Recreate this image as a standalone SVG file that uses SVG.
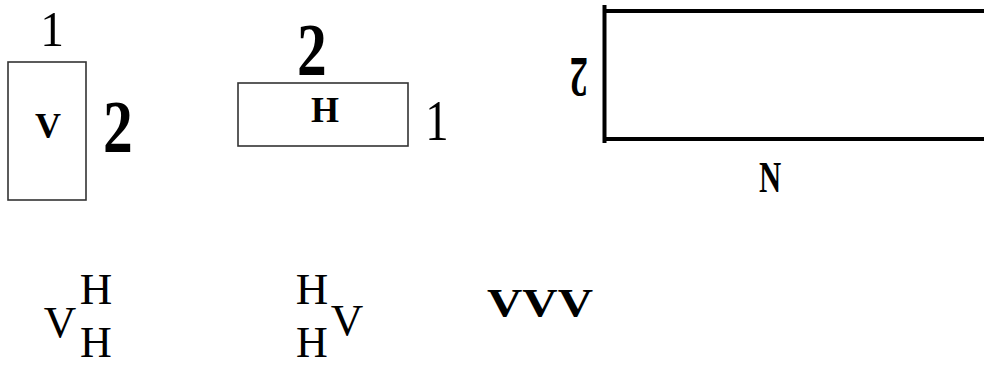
<svg xmlns="http://www.w3.org/2000/svg" width="984" height="367" viewBox="0 0 984 367">
<style>
.t{font-family:"Liberation Serif","Times New Roman",serif;fill:#000;text-anchor:middle}
.b{font-weight:bold}
.box{fill:#fff;stroke:#333;stroke-width:1.6}
</style>
<rect width="984" height="367" fill="#fff"/>
<g id="node-v">
<rect class="box" x="8" y="62" width="78" height="138"/>
<text class="t b" x="48" y="138" font-size="36">V</text>
<text class="t" transform="translate(52 46) scale(0.95 1)" font-size="50">1</text>
<text class="t b" transform="translate(118 152) scale(0.85 1.05)" font-size="70">2</text>
</g>
<g id="node-h">
<rect class="box" x="238" y="83" width="170" height="63"/>
<text class="t b" x="325" y="122" font-size="36">H</text>
<text class="t b" transform="translate(312 75) scale(0.85 1.05)" font-size="70">2</text>
<text class="t" transform="translate(437 140) scale(0.85 1.05)" font-size="55">1</text>
</g>
<g id="node-big">
<path d="M604.5 5 V143 M603 11 H984 M603 139 H984" fill="none" stroke="#000" stroke-width="4"/>
<text class="t b" transform="translate(579 58) rotate(180) scale(0.65 1)" font-size="56">2</text>
<text class="t b" transform="translate(770 192) scale(0.7 1)" font-size="44">N</text>
</g>
<g id="formulas">
<text class="t" x="60" y="337" font-size="45">V</text>
<text class="t" x="96" y="304" font-size="45">H</text>
<text class="t" x="96" y="357" font-size="44">H</text>
<text class="t" x="312" y="304" font-size="45">H</text>
<text class="t" x="312" y="357" font-size="44">H</text>
<text class="t" x="347" y="335" font-size="45">V</text>
<text class="t b" x="540" y="316" font-size="40" textLength="106" lengthAdjust="spacingAndGlyphs">VVV</text>
</g>
<g id="connectors"></g>
</svg>
